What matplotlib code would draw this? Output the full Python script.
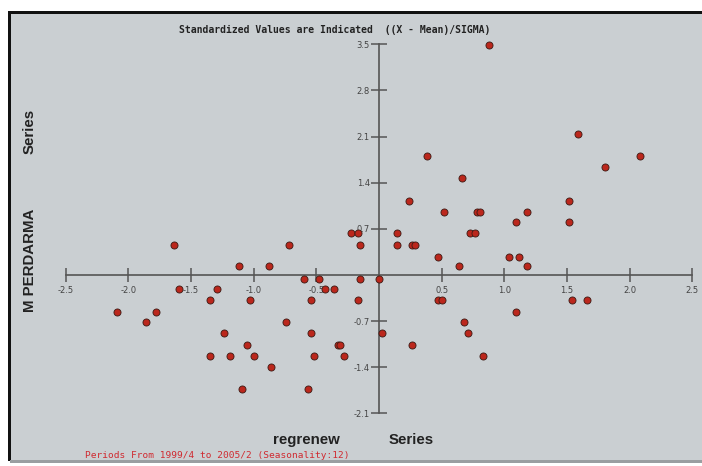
import matplotlib
matplotlib.use('Agg')
import matplotlib.pyplot as plt
from matplotlib.patches import Rectangle

plt.rcParams['axes.unicode_minus'] = False

# 标准化后的散点数据 (X = regrenew, Y = M PERDARMA)
x_vals = [-1.64, -0.72, -1.12, -0.88, -0.60, -0.48, -0.15, 0.00, -0.22, -0.17,
          -0.15, -1.60, -1.29, -0.43, -0.36, -1.35, -1.03, -0.545, -0.17, -2.09,
          -1.78, -1.86, -0.74, -1.24, -0.545, 0.02, -1.05, -0.33, -0.31, -1.35,
          -1.19, -1.00, -0.52, -0.28, -0.86, -1.095, -0.57,
          0.877, 1.585, 0.38, 2.08, 1.80, 0.665, 0.24, 1.515, 0.52,
          0.78, 0.805, 1.185, 1.09, 1.515, 0.14, 0.73, 0.77, 0.14,
          0.26, 0.285, 0.47, 1.04, 1.115, 0.64, 1.185, 0.47, 0.50,
          1.54, 1.66, 1.09, 0.68, 0.71, 0.26, 0.83]
y_vals = [0.455, 0.455, 0.13, 0.13, -0.06, -0.06, -0.06, -0.06, 0.63, 0.63,
          0.455, -0.22, -0.22, -0.22, -0.22, -0.38, -0.38, -0.38, -0.38, -0.56,
          -0.56, -0.72, -0.72, -0.885, -0.885, -0.885, -1.06, -1.06, -1.06, -1.23,
          -1.23, -1.23, -1.23, -1.23, -1.39, -1.73, -1.73,
          3.49, 2.14, 1.81, 1.81, 1.64, 1.47, 1.13, 1.13, 0.96,
          0.96, 0.96, 0.96, 0.80, 0.80, 0.63, 0.63, 0.63, 0.455,
          0.455, 0.455, 0.28, 0.28, 0.28, 0.13, 0.13, -0.38, -0.38,
          -0.38, -0.38, -0.56, -0.72, -0.885, -1.06, -1.23]

x_ticks = [-2.5, -2.0, -1.5, -1.0, -0.5, 0.5, 1.0, 1.5, 2.0, 2.5]
y_ticks = [-2.1, -1.4, -0.7, 0.7, 1.4, 2.1, 2.8, 3.5]

W, H = 702, 466
fig = plt.figure(figsize=(W / 100, H / 100), dpi=100)
fig.patch.set_facecolor('white')

ax = fig.add_axes([0, 0, 1, 1])
ax.patch.set_visible(False)

# 背景面板和边框
bg = '#cacfd2'
ax.add_patch(Rectangle((10 / W, 5 / H), 1 - 10 / W, (H - 18) / H,
                       transform=ax.transAxes, facecolor=bg, edgecolor='none', zorder=-5))
ax.add_patch(Rectangle((8 / W, 5 / H), 3 / W, (H - 16) / H,
                       transform=ax.transAxes, facecolor='#111111', edgecolor='none', zorder=-4))
ax.add_patch(Rectangle((8 / W, (H - 14) / H), 1 - 8 / W, 3 / H,
                       transform=ax.transAxes, facecolor='#111111', edgecolor='none', zorder=-4))
ax.add_patch(Rectangle((10 / W, 3 / H), 1 - 10 / W, 3 / H,
                       transform=ax.transAxes, facecolor='#9a9ea1', edgecolor='none', zorder=-4))

# 坐标比例
x0, xs = 379, 125.3
y0, ys = 275, 65.9
ax.set_xlim(-x0 / xs, (W - x0) / xs)
ax.set_ylim((y0 - H) / ys, y0 / ys)

for s in ['top', 'right']:
    ax.spines[s].set_visible(False)
ax.spines['left'].set_position(('data', 0))
ax.spines['bottom'].set_position(('data', 0))
ax.spines['left'].set_bounds(-2.1, 3.5)
ax.spines['bottom'].set_bounds(-2.5, 2.5)
for s in ['left', 'bottom']:
    ax.spines[s].set_color('#555555')
    ax.spines[s].set_linewidth(1.2)

ax.set_xticks(x_ticks)
ax.set_xticklabels([f'{v:.1f}' for v in x_ticks])
ax.set_yticks(y_ticks)
ax.set_yticklabels([f'{v:.1f}' for v in y_ticks])
ax.tick_params(axis='x', direction='inout', length=10, width=1.1, color='#555555',
               labelsize=6, labelcolor='#444444', pad=3)
ax.tick_params(axis='y', direction='inout', length=11, width=1.1, color='#555555',
               labelsize=6, labelcolor='#444444', pad=1)

ax.scatter(x_vals, y_vals, s=26, c='#bb271c', edgecolors='#3a1a14', linewidths=0.6, zorder=5)

def fx(px):
    return px / W

def fy(py):
    return 1 - py / H

fig.text(fx(335), fy(30), 'Standardized Values are Indicated  ((X - Mean)/SIGMA)',
         family='DejaVu Sans Mono', fontsize=7, fontweight='bold', color='#222222',
         ha='center', va='center')
fig.text(fx(30), fy(260), 'M PERDARMA', family='Liberation Sans', fontsize=10.8,
         fontweight='bold', color='#222222', rotation=90, ha='center', va='center')
fig.text(fx(30), fy(131), 'Series', family='Liberation Sans', fontsize=10.8,
         fontweight='bold', color='#222222', rotation=90, ha='center', va='center')
fig.text(fx(306), fy(440), 'regrenew', family='Liberation Sans', fontsize=10.8,
         fontweight='bold', color='#222222', ha='center', va='center')
fig.text(fx(411), fy(440), 'Series', family='Liberation Sans', fontsize=10.8,
         fontweight='bold', color='#222222', ha='center', va='center')
fig.text(fx(85), fy(455), 'Periods From 1999/4 to 2005/2 (Seasonality:12)',
         family='DejaVu Sans Mono', fontsize=6.8, color='#d02a30',
         ha='left', va='center')

fig.savefig('out.png', dpi=100)
